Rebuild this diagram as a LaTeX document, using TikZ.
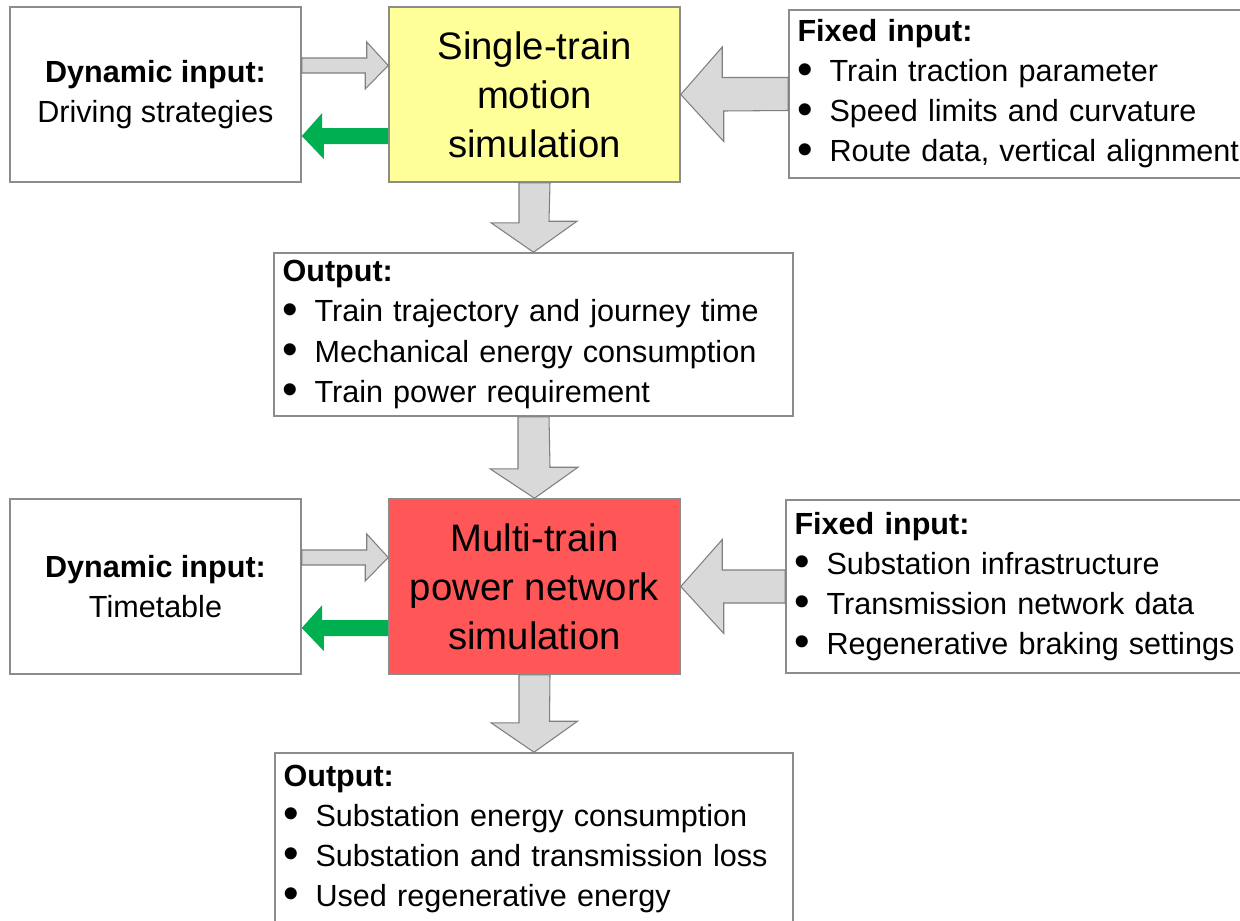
\documentclass[tikz,border=0pt]{standalone}
\usepackage{fontspec}
\setmainfont{Liberation Sans}
\usetikzlibrary{calc}
\definecolor{boxline}{HTML}{8C8C8C}
\definecolor{arrowfill}{HTML}{D9D9D9}
\definecolor{arrowline}{HTML}{7F7F7F}
\definecolor{simyellow}{HTML}{FFFF99}
\definecolor{simred}{HTML}{FF5757}
\definecolor{backgreen}{HTML}{00B050}
\newcommand{\itm}[1]{\makebox[0.64cm][l]{\raisebox{-0.07em}{\scalebox{1.45}{\textbullet}}}#1}
\begin{document}
\begin{tikzpicture}
        [
        x=0.02cm, y=-0.02cm,
        box/.style={draw=boxline, line width=0.9pt, fill=white, inner ysep=0pt,
                    font=\fontsize{17.4}{22.8}\selectfont},
        sidebox/.style={box, minimum width=5.82cm, minimum height=3.5cm, align=center},
        simbox/.style={box, minimum width=5.82cm, minimum height=3.5cm, align=center,
                       font=\fontsize{21.8}{27.9}\selectfont},
        listbox/.style={box, align=left, inner xsep=0.17cm},
        lightarrow/.style={draw=arrowline, fill=arrowfill, line width=0.6pt, line join=miter},
        backarrow/.style={fill=backgreen},
        ]
        \useasboundingbox (0,0) rectangle (1240,920);
        % first stage
        \node[sidebox] (dyn1) at (155.5,94.5) {\textbf{Dynamic input:}\\Driving strategies};
        \node[simbox, fill=simyellow] (single) at (534.5,94.5) {Single-train\\motion\\simulation};
        \node[listbox, minimum height=3.36cm, text width=8.88cm] (fix1) at (1019.5,94)
            {\textbf{Fixed input:}\\\itm{Train traction parameter}\\\itm{Speed limits and curvature}\\\itm{Route data, vertical alignment}};
        \node[listbox, minimum height=3.26cm, text width=10.04cm] (out1) at (533.5,334.5)
            {\textbf{Output:}\\\itm{Train trajectory and journey time}\\\itm{Mechanical energy consumption}\\\itm{Train power requirement}};
        % second stage
        \node[sidebox] (dyn2) at (155.5,586.5) {\textbf{Dynamic input:}\\Timetable};
        \node[simbox, fill=simred] (multi) at (534.5,586.5) {Multi-train\\power network\\simulation};
        \node[listbox, minimum height=3.46cm, text width=8.94cm] (fix2) at (1018,586.5)
            {\textbf{Fixed input:}\\\itm{Substation infrastructure}\\\itm{Transmission network data}\\\itm{Regenerative braking settings}};
        \node[listbox, minimum height=3.44cm, text width=10.02cm] (out2) at (534,839)
            {\textbf{Output:}\\\itm{Substation energy consumption}\\\itm{Substation and transmission loss}\\\itm{Used regenerative energy}};

        % arrows of the first stage
        \draw[lightarrow] ($(dyn1.east)+(0,-36.5)$) -- ++(65,0) -- ++(0,-16) -- ($(single.west)+(0,-29)$)
            -- ++(-23,23.5) -- ++(0,-16) -- ($(dyn1.east)+(0,-21.5)$) -- cycle;
        \fill[backarrow] ($(single.west)+(0,33.5)$) -- ++(-66,0) -- ++(0,-15) -- ($(dyn1.east)+(0,41.5)$)
            -- ++(22,23) -- ++(0,-15) -- ($(single.west)+(0,49.5)$) -- cycle;
        \draw[lightarrow] ($(fix1.west)+(0,-16.5)$) -- ++(-66,0) -- ++(0,-30.5) -- (single.east)
            -- ++(43,47) -- ++(0,-30.5) -- ($(fix1.west)+(0,16.5)$) -- cycle;
        \draw[lightarrow] ($(single.south)+(-15.5,0)$) -- ++(0,40) -- ++(-28,0) -- (out1.north)
            -- ++(43.5,-31) -- ++(-28,0) -- ($(single.south)+(15.5,0)$) -- cycle;
        \draw[lightarrow] ($(out1.south)+(-15.5,0)$) -- ++(0,52) -- ++(-28,0) -- (multi.north)
            -- ++(43.5,-31) -- ++(-28,0) -- ($(out1.south)+(15.5,0)$) -- cycle;

        % arrows of the second stage
        \draw[lightarrow] ($(dyn2.east)+(0,-36.5)$) -- ++(65,0) -- ++(0,-16) -- ($(multi.west)+(0,-29)$)
            -- ++(-23,23.5) -- ++(0,-16) -- ($(dyn2.east)+(0,-21.5)$) -- cycle;
        \fill[backarrow] ($(multi.west)+(0,33.5)$) -- ++(-66,0) -- ++(0,-15) -- ($(dyn2.east)+(0,41.5)$)
            -- ++(22,23) -- ++(0,-15) -- ($(multi.west)+(0,49.5)$) -- cycle;
        \draw[lightarrow] ($(fix2.west)+(0,-16.5)$) -- ++(-63,0) -- ++(0,-30.5) -- (multi.east)
            -- ++(43,47) -- ++(0,-30.5) -- ($(fix2.west)+(0,16.5)$) -- cycle;
        \draw[lightarrow] ($(multi.south)+(-15.5,0)$) -- ++(0,48) -- ++(-28,0) -- (out2.north)
            -- ++(43.5,-31) -- ++(-28,0) -- ($(multi.south)+(15.5,0)$) -- cycle;
        \end{tikzpicture}
\end{document}
